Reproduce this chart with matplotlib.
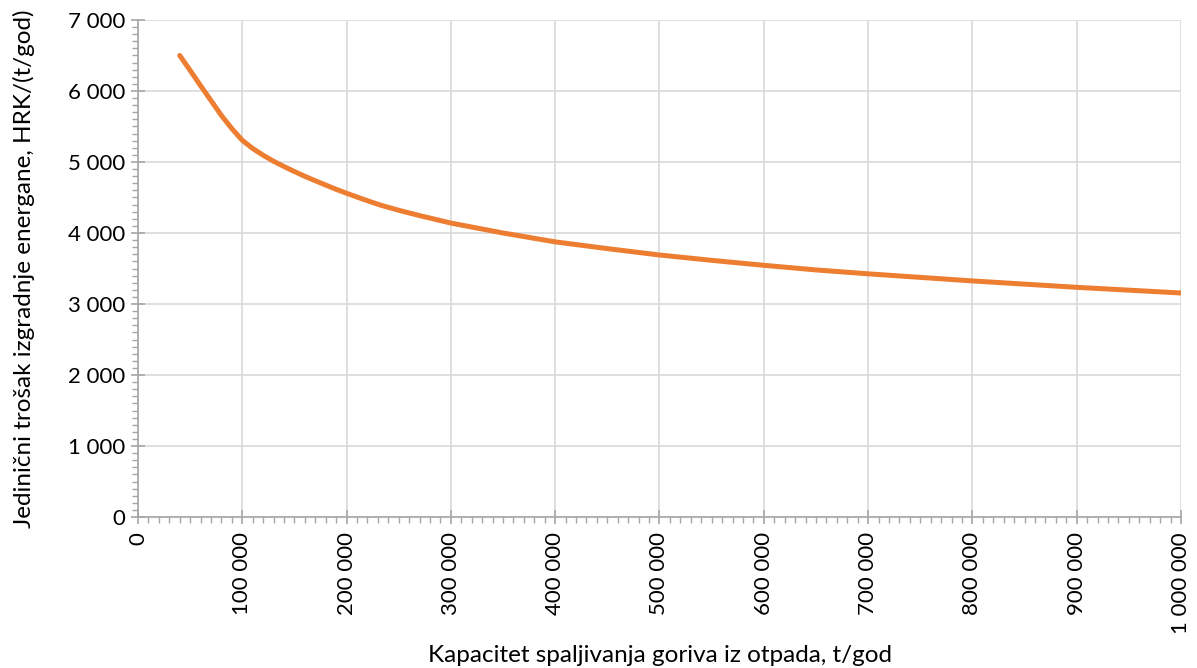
import numpy as np
import matplotlib
matplotlib.use("Agg")
import matplotlib.pyplot as plt
from matplotlib.ticker import MultipleLocator, FuncFormatter

# capacity (t/god) and unit cost (HRK/(t/god))
capacity = [40000, 50000, 60000, 70000, 80000, 90000, 100000, 110000, 120000,
            130000, 145000, 160000, 175000, 190000, 200000, 215000, 232000,
            250000, 270000, 300000, 350000, 400000, 450000, 500000, 550000,
            600000, 650000, 700000, 750000, 800000, 850000, 900000, 950000,
            1000000]
unit_cost = [6500, 6290, 6075, 5865, 5655, 5470, 5305, 5190, 5095,
             5010, 4900, 4798, 4705, 4615, 4560, 4480, 4395,
             4320, 4245, 4140, 4000, 3875, 3780, 3690, 3615,
             3545, 3480, 3425, 3375, 3325, 3280, 3235, 3195,
             3155]

plt.rcParams['font.family'] = ['Lato', 'DejaVu Sans']

fig = plt.figure(figsize=(11.97, 6.68), dpi=100)
ax = fig.add_axes([138 / 1197, 1 - 517 / 668, (1181 - 138) / 1197, (517 - 20) / 668])

ax.plot(capacity, unit_cost, color='#ED7D31', lw=3.6,
        solid_capstyle='round', solid_joinstyle='round')

ax.set_xlim(0, 1000000)
ax.set_ylim(0, 7000)
ax.xaxis.set_major_locator(MultipleLocator(100000))
ax.xaxis.set_minor_locator(MultipleLocator(10000))
ax.yaxis.set_major_locator(MultipleLocator(1000))
ax.yaxis.set_minor_locator(MultipleLocator(100))

fmt = FuncFormatter(lambda v, p: f"{int(round(v)):,}".replace(",", " "))
ax.xaxis.set_major_formatter(fmt)
ax.yaxis.set_major_formatter(fmt)

ax.grid(True, which='major', color='#D9D9D9', lw=1.2)
ax.set_axisbelow(True)
for s in ['top', 'right']:
    ax.spines[s].set_visible(False)
for s in ['left', 'bottom']:
    ax.spines[s].set_color('#A6A6A6')
    ax.spines[s].set_linewidth(1.2)

ax.tick_params(which='major', direction='inout', length=10, width=1.2,
               color='#A6A6A6', labelsize=16, labelcolor='black')
ax.tick_params(which='minor', direction='out', length=4, width=1,
               color='#A6A6A6')
ax.tick_params(axis='x', which='major', labelrotation=90, pad=6)
ax.tick_params(axis='y', which='major', pad=4)

ax.set_xlabel('Kapacitet spaljivanja goriva iz otpada, t/god', fontsize=17.5, labelpad=8)
ax.set_ylabel('Jedinični trošak izgradnje energane, HRK/(t/god)', fontsize=17.5, labelpad=24)

fig.savefig('out.png', dpi=100)
